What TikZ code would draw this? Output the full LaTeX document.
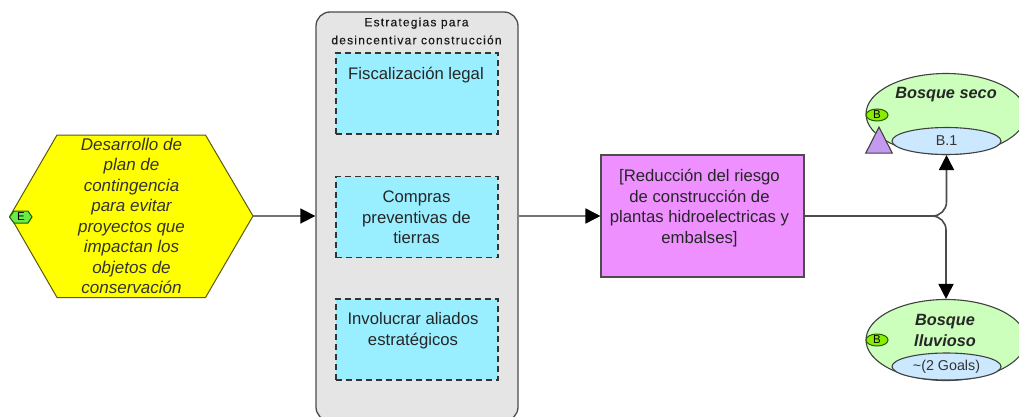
\documentclass[tikz,border=0pt]{standalone}
\usepackage{fontspec}
\setmainfont{Liberation Sans}
\usetikzlibrary{shapes.geometric,arrows.meta}
\definecolor{taskblue}{HTML}{99EEFF}
\definecolor{pinkfill}{HTML}{EE90FF}
\definecolor{greenfill}{HTML}{CCFFBB}
\definecolor{goalblue}{HTML}{CCE8FF}
\definecolor{badgegreen}{HTML}{88EE00}
\definecolor{ebadgegreen}{HTML}{66EE44}
\definecolor{trifill}{HTML}{C49AF0}
\definecolor{hexyellow}{HTML}{FFFF00}
\definecolor{hexline}{HTML}{5A5A10}
\definecolor{badgeline}{HTML}{2A5A00}
\tikzset{
  x=1pt,y=-1pt,
  edge/.style={draw=black!55,line width=1.6pt,-{Triangle[width=15pt,length=15pt,color=black]}},
  edgedark/.style={edge,draw=black!70,rounded corners=14pt},
  hexshape/.style={draw=hexline,line width=1pt,fill=hexyellow},
  hexbox/.style={rectangle,minimum width=243pt,minimum height=162pt,inner sep=0pt,
    align=center,font=\fontsize{17}{20.5}\selectfont\itshape,text=black!80},
  group/.style={rectangle,rounded corners=14pt,draw=black!70,line width=1.3pt,fill=black!10,
    minimum width=202pt,minimum height=409pt,inner sep=0pt},
  grouptitle/.style={align=center,font=\fontsize{12}{18}\selectfont\addfontfeatures{LetterSpace=10,FakeBold=0.2},text=black!90,inner sep=0pt},
  task/.style={rectangle,draw=black!80,dash pattern=on 6pt off 4pt,line width=1.1pt,fill=taskblue,
    minimum width=162pt,minimum height=81pt,inner sep=0pt},
  tasktext/.style={align=center,font=\fontsize{16.7}{20.7}\selectfont,text=black!85,inner sep=0pt},
  result/.style={rectangle,draw=black!70,line width=1.1pt,fill=pinkfill,minimum width=203pt,minimum height=122pt,inner sep=0pt},
  resulttext/.style={align=center,font=\fontsize{16.7}{20.6}\selectfont,text=black!85,inner sep=0pt},
  target/.style={ellipse,draw=black!75,line width=1.1pt,fill=greenfill,minimum width=160pt,minimum height=81pt,inner sep=0pt},
  targettext/.style={align=center,font=\fontsize{16.3}{21}\selectfont\bfseries\itshape,text=black!85,inner sep=0pt},
  goal/.style={ellipse,draw=black!75,line width=1.1pt,fill=goalblue,minimum width=109pt,minimum height=27pt,inner sep=0pt,
    font=\fontsize{14.3}{15}\selectfont,text=black!80},
  badge/.style={ellipse,draw=badgeline,line width=1pt,fill=badgegreen,minimum width=22pt,minimum height=12pt,inner sep=0pt,
    font=\fontsize{11.5}{10}\selectfont},
  ebadgeshape/.style={draw=badgeline,line width=1pt,fill=ebadgegreen},
  ebadge/.style={inner sep=0pt,font=\fontsize{11.5}{10}\selectfont},
  tri/.style={isosceles triangle,isosceles triangle apex angle=54,shape border rotate=90,draw=black!75,line width=1.1pt,fill=trifill,
    minimum height=26pt,minimum width=26pt,inner sep=0pt},
}
\begin{document}
\begin{tikzpicture}
\useasboundingbox[fill=white] (0,0) rectangle (1019,417);
\clip (0,0) rectangle (1019,417);
\draw[hexshape] (10,216) -- (57,135) -- (205.5,135) -- (253,216) -- (205.5,297.5) -- (57,297.5) -- cycle;
\node[hexbox] (hex) at (131.5,216) {Desarrollo de\\plan de\\contingencia\\para evitar\\proyectos que\\impactan los\\objetos de\\conservación};
\draw[ebadgeshape] (9.5,217) -- (14,211) -- (28,211) -- (32,217) -- (28,223) -- (14,223) -- cycle;
\node[ebadge] (ebadge) at (21,217) {E};
\node[group] (grp) at (417,216.5) {};
\node[grouptitle] (grpt) at (416.5,31) {Estrategias para\\desincentivar construcción};
\node[task] (t1) at (417,93.5) {};
\node[tasktext] (t1t) at (416,75) {Fiscalización legal};
\node[task] (t2) at (417,217) {};
\node[tasktext] (t2t) at (416.5,217.5) {Compras\\preventivas de\\tierras};
\node[task] (t3) at (417,339.5) {};
\node[tasktext] (t3t) at (413,331) {Involucrar aliados\\estratégicos};
\node[result] (res) at (702.5,216) {};
\node[resulttext] (rest) at (699.5,208) {[Reducción del riesgo\\de construcción de\\plantas hidroelectricas y\\embalses]};
\node[target] (seco) at (946,114) {};
\node[targettext] (secot) at (946,94.5) {Bosque seco};
\node[goal] (secog) at (946.5,141) {B.1};
\node[badge] (secob) at (877,115) {B};
\node[tri] (tri) at (879,145) {};
\node[target] (lluv) at (946,340) {};
\node[targettext] (lluvt) at (945,330.5) {Bosque\\lluvioso};
\node[goal] (lluvg) at (946.5,366.5) {\textasciitilde(2 Goals)};
\node[badge] (lluvb) at (877,340) {B};
\draw[edge] (hex.east) -- (hex.east -| grp.west);
\draw[edge] (grp.east |- res.west) -- (res.west);
\draw[edgedark] (res.east) -| (secog.south);
\draw[edgedark] (res.east) -| (lluv.north);
\end{tikzpicture}
\end{document}
